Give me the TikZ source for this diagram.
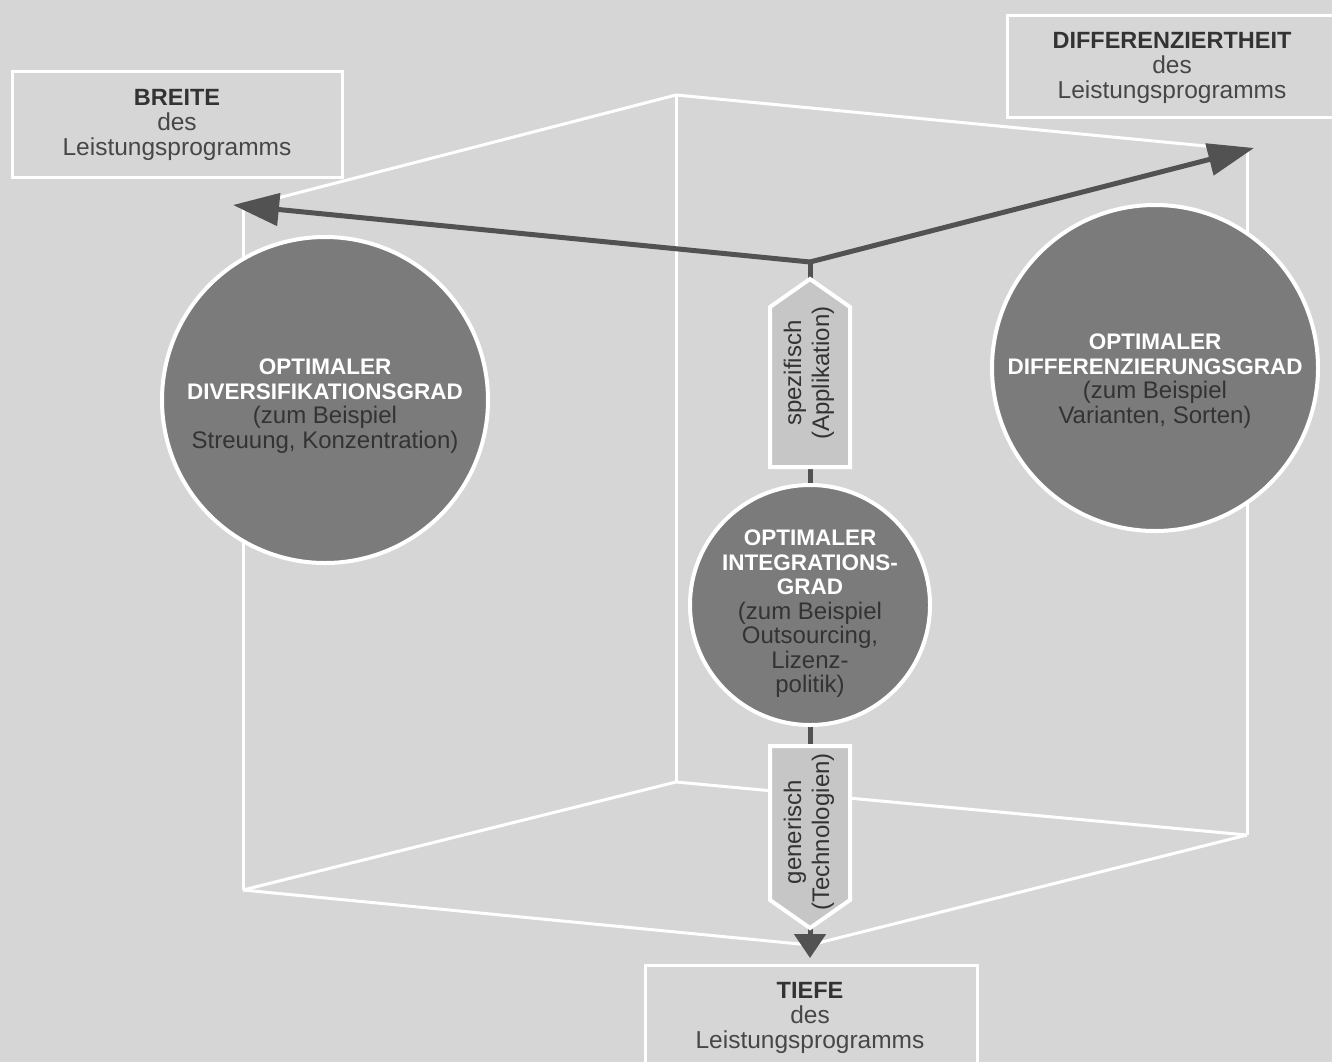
\documentclass[tikz,border=0pt]{standalone}
\usepackage{fontspec}
\setmainfont{Liberation Sans}
\usetikzlibrary{arrows.meta}
\definecolor{bg}{HTML}{D6D6D6}
\definecolor{disc}{HTML}{7B7B7B}
\definecolor{arr}{HTML}{525252}
\definecolor{pent}{HTML}{C6C6C6}
\definecolor{ink}{HTML}{333333}
\definecolor{inklight}{HTML}{474747}
\newcommand{\regline}[1]{{\fontsize{24}{24.5}\selectfont\color{ink}#1}}
\begin{document}
\begin{tikzpicture}[x=1pt,y=-1pt,
  edge/.style={draw=white,line width=3pt},
  arrowline/.style={draw=arr,line width=5pt,-{Triangle[length=46pt,width=32pt]}},
  downline/.style={draw=arr,line width=5pt,-{Triangle[length=24pt,width=31pt]}},
  labelbox/.style={align=center,text=inklight,
     font=\fontsize{24.5}{25}\selectfont,inner sep=0pt},
  disc/.style={circle,fill=disc,draw=white,line width=4pt,align=center,
     text=white,font=\fontsize{22.5}{24.5}\selectfont,inner sep=0pt},
  pentshape/.style={fill=pent,draw=white,line width=4pt,line join=miter},
  penttext/.style={rotate=90,align=center,text=ink,inner sep=0pt,
     font=\fontsize{24}{28}\selectfont}
]
\fill[bg] (0,0) rectangle (1332,1062);
\useasboundingbox (0,0) rectangle (1332,1062);

% cube corners
\coordinate (tb) at (676,95);
\coordinate (tl) at (243,207);
\coordinate (tr) at (1247,150);
\coordinate (tf) at (810,262);
\coordinate (bb) at (676,782);
\coordinate (bl) at (243,890);
\coordinate (br) at (1247,835);
\coordinate (bf) at (810,945);
\coordinate (breiteTip) at (233,205);
\coordinate (diffTip) at (1254,148);
\coordinate (tiefeTip) at (810,958);

% cube edges
\draw[edge] (tl) -- (tb) -- (tr);
\draw[edge] (tb) -- (bb);
\draw[edge] (tl) -- (bl);
\draw[edge] (tr) -- (br);
\draw[edge] (bl) -- (bb) -- (br);
\draw[edge] (bl) -- (bf) -- (br);

% axes
\draw[arrowline] (tf) -- (breiteTip);
\draw[arrowline] (tf) -- (diffTip);
\draw[downline] (tf) -- (tiefeTip);

% pentagon arrows on the vertical axis
\draw[pentshape] (810,279) -- (850,307) -- (850,467) -- (770,467) -- (770,307) -- cycle;
\node[penttext] (spez) at (809,373) {spezifisch\\(Applikation)};
\draw[pentshape] (770,746) -- (850,746) -- (850,900) -- (810,928) -- (770,900) -- cycle;
\node[penttext] (gen) at (809,832) {generisch\\(Technologien)};

% discs
\node[disc,minimum size=326pt] (div) at (325,400) {};
\node[disc,draw=none,fill=none] (divtxt) at (325,406)
  {\textbf{OPTIMALER}\\\textbf{DIVERSIFIKATIONSGRAD}\\\regline{(zum Beispiel}\\\regline{Streuung, Konzentration)}};
\node[disc,minimum size=326pt] (dif) at (1155,368) {};
\node[disc,draw=none,fill=none] (diftxt) at (1155,381)
  {\textbf{OPTIMALER}\\\textbf{DIFFERENZIERUNGSGRAD}\\\regline{(zum Beispiel}\\\regline{Varianten, Sorten)}};
\node[disc,minimum size=240pt] (int) at (810,605) {};
\node[disc,draw=none,fill=none] (inttxt) at (810,614)
  {\textbf{OPTIMALER}\\\textbf{INTEGRATIONS-}\\\textbf{GRAD}\\\regline{(zum Beispiel}\\\regline{Outsourcing,}\\\regline{Lizenz-}\\\regline{politik)}};

% label boxes
\draw[draw=white,line width=3pt] (12,72) rectangle (342,177);
\node[labelbox] (breite) at (177,125) {{\color{ink}\fontsize{23.5}{25}\selectfont\textbf{BREITE}}\\des\\Leistungsprogramms};
\draw[draw=white,line width=3pt] (1007,16) rectangle (1345,118);
\node[labelbox] (diff) at (1172,68) {{\color{ink}\fontsize{23.5}{25}\selectfont\textbf{DIFFERENZIERTHEIT}}\\des\\Leistungsprogramms};
\draw[draw=white,line width=3pt] (645,965) rectangle (977,1075);
\node[labelbox] (tiefe) at (810,1018) {{\color{ink}\fontsize{23.5}{25}\selectfont\textbf{TIEFE}}\\des\\Leistungsprogramms};
\end{tikzpicture}
\end{document}
